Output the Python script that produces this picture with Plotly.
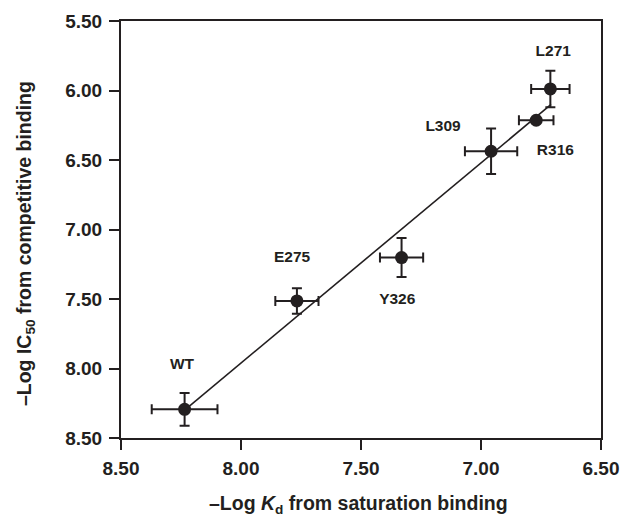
import plotly.graph_objects as go

mutants = ["WT", "E275", "Y326", "L309", "R316", "L271"]
log_kd = [8.235, 7.767, 7.331, 6.958, 6.770, 6.711]
log_ic50 = [8.294, 7.514, 7.202, 6.437, 6.214, 5.989]
err_kd = [0.137, 0.090, 0.090, 0.109, 0.072, 0.080]
err_ic50 = [0.117, 0.092, 0.140, 0.164, 0.0, 0.131]

label_x = [8.246, 7.787, 7.349, 7.158, 6.690, 6.699]
label_y = [7.977, 7.209, 7.509, 6.263, 6.435, 5.723]

fit_x = [8.225, 6.708]
fit_y = [8.285, 6.100]

x_ticks = [8.50, 8.00, 7.50, 7.00, 6.50]
y_ticks = [5.50, 6.00, 6.50, 7.00, 7.50, 8.00, 8.50]

x_title = "–Log <i>K</i><sub>d</sub> from saturation binding"
y_title = "–Log IC<sub>50</sub> from competitive binding"

ink = "#231f20"
fnt = "Liberation Sans, Arial, sans-serif"

fig = go.Figure()
fig.add_trace(go.Scatter(x=fit_x, y=fit_y, mode="lines",
                         line=dict(color=ink, width=1.6), showlegend=False,
                         hoverinfo="skip"))
fig.add_trace(go.Scatter(
    x=log_kd, y=log_ic50, mode="markers",
    marker=dict(color=ink, size=13, line=dict(width=0)),
    error_x=dict(type="data", array=err_kd, color=ink, thickness=2, width=5),
    error_y=dict(type="data", array=err_ic50, color=ink, thickness=2, width=5),
    showlegend=False))
fig.add_trace(go.Scatter(
    x=label_x, y=label_y, mode="text", text=mutants,
    textfont=dict(family=fnt, size=15.5, color=ink, weight="bold"),
    showlegend=False, hoverinfo="skip"))

axis_common = dict(showline=True, linecolor=ink, linewidth=2, mirror=True,
                   ticks="outside", ticklen=10, tickwidth=2, tickcolor=ink,
                   showgrid=False, zeroline=False, tickformat=".2f",
                   tickfont=dict(family=fnt, size=19, color=ink, weight="bold"))

fig.update_xaxes(range=[8.5, 6.5], tickvals=x_ticks, ticklabelstandoff=2, **axis_common)
fig.update_yaxes(range=[8.5, 5.5], tickvals=y_ticks, ticklabelstandoff=3, **axis_common)

title_font = dict(family=fnt, size=19.5, color=ink, weight="bold")
fig.add_annotation(text=x_title, xref="paper", yref="paper", x=0.494, y=-0.16,
                   xanchor="center", yanchor="middle", showarrow=False,
                   font=title_font)
fig.add_annotation(text=y_title, xref="paper", yref="paper", x=-0.20, y=0.465,
                   xanchor="center", yanchor="middle", showarrow=False,
                   textangle=-90, font=title_font)

fig.update_layout(width=620, height=516,
                  margin=dict(l=121, r=19, t=21, b=78, autoexpand=False),
                  paper_bgcolor="white", plot_bgcolor="white")

fig.write_html("out.html", config={"displayModeBar": False},
               post_script="document.body.style.margin='0';"
                           "document.body.style.overflow='hidden';")
